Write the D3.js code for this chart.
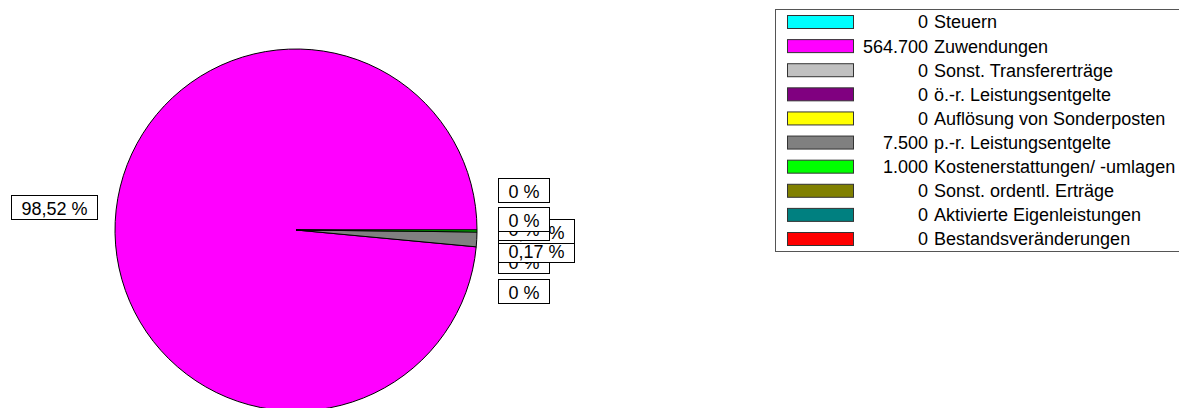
<!DOCTYPE html>
<html>
<head>
<meta charset="utf-8">
<script src="https://cdn.jsdelivr.net/npm/d3@7/dist/d3.min.js"></script>
<style>
  html, body { margin: 0; padding: 0; background: #fff; }
  svg { display: block; }
  text { font-family: Arial, "Liberation Sans", Helvetica, sans-serif; }
</style>
</head>
<body>
<svg id="chart" width="1179" height="408"></svg>
<script>
// ---- data ----
const categories = [
  "Steuern",
  "Zuwendungen",
  "Sonst. Transfererträge",
  "ö.-r. Leistungsentgelte",
  "Auflösung von Sonderposten",
  "p.-r. Leistungsentgelte",
  "Kostenerstattungen/ -umlagen",
  "Sonst. ordentl. Erträge",
  "Aktivierte Eigenleistungen",
  "Bestandsveränderungen"
];
const values = [0, 564700, 0, 0, 0, 7500, 1000, 0, 0, 0];
const colors = ["#00FFFF", "#FF00FF", "#C0C0C0", "#800080", "#FFFF00",
                "#808080", "#00FF00", "#808000", "#008080", "#FF0000"];

// ---- label layout (vertical nudges from the slice anchor, draw order) ----
const labelNudge = [-2, -14.6, -56.8, -27.8, -18.8, -8.4, 19, 31, 61, -11];
const labelDrawOrder = [1, 2, 3, 4, 8, 7, 6, 5, 0, 9];

// ---- layout ----
const svg = d3.select("#chart");
const cx = 296, cy = 230, r = 181;
const fontSize = 18;

const total = d3.sum(values);
const fmtNum = d3.formatLocale({decimal: ",", thousands: ".", grouping: [3], currency: ["", " €"]});
const fmtThousands = fmtNum.format(",d");
const pctText = v => {
  const p = v / total * 100;
  if (p === 0) return "0 %";
  return fmtNum.format(".2f")(p).replace(/,?0+$/, "") + " %";
};

// counterclockwise from 3 o'clock
const pie = d3.pie().sort(null).value(d => d)
  .startAngle(Math.PI / 2).endAngle(Math.PI / 2 - 2 * Math.PI);
const arcs = pie(values);
const arc = d3.arc().innerRadius(0).outerRadius(r);

const g = svg.append("g").attr("transform", `translate(${cx},${cy})`);
g.selectAll("path.slice")
  .data(arcs.filter(a => a.value > 0))
  .join("path")
  .attr("class", "slice")
  .attr("d", arc)
  .attr("fill", d => colors[d.index])
  .attr("stroke", "#000")
  .attr("stroke-width", 1)
  .attr("stroke-linejoin", "round");

// ---- labels ----
const labelG = svg.append("g");
const boxH = 24, padX = 10;
labelDrawOrder.forEach(i => {
  const a = arcs[i];
  const mid = (a.startAngle + a.endAngle) / 2; // d3 angle, clockwise from 12
  const ax = Math.sin(mid), ay = -Math.cos(mid);
  const yC = cy + ay * r + labelNudge[i];
  const right = ax >= 0;
  const lg = labelG.append("g");
  const rect = lg.append("rect");
  const t = lg.append("text")
    .attr("font-size", fontSize)
    .attr("fill", "#000")
    .attr("dominant-baseline", "central")
    .text(pctText(values[i]));
  const w = t.node().getComputedTextLength() + 2 * padX;
  const x0 = right ? cx + r + 21 : cx - r - 18 - w;
  rect.attr("x", Math.round(x0) + 0.5).attr("y", Math.round(yC - boxH / 2) + 0.5)
    .attr("width", Math.round(w)).attr("height", boxH)
    .attr("fill", "#fff").attr("stroke", "#000").attr("stroke-width", 1);
  t.attr("x", Math.round(x0) + 0.5 + padX).attr("y", Math.round(yC) + 1.5);
});

// ---- legend ----
const legX = 775.5, legY = 9.5, legW = 430, legH = 242;
svg.append("rect")
  .attr("x", legX).attr("y", legY).attr("width", legW).attr("height", legH)
  .attr("fill", "#fff").attr("stroke", "#555").attr("stroke-width", 1);

const rowY = d3.scalePoint().domain(categories).range([22, 239]);
const leg = svg.append("g");
const rows = leg.selectAll("g.row").data(categories).join("g").attr("class", "row")
  .attr("transform", d => `translate(0,${rowY(d)})`);
rows.append("rect")
  .attr("x", 787.5).attr("y", -6.5).attr("width", 66).attr("height", 13)
  .attr("fill", (d, i) => colors[i]).attr("stroke", "#333").attr("stroke-width", 1);
rows.append("text")
  .attr("x", 928).attr("y", 0).attr("dy", "0.36em")
  .attr("text-anchor", "end").attr("font-size", fontSize).attr("fill", "#000")
  .text((d, i) => fmtThousands(values[i]));
rows.append("text")
  .attr("x", 934).attr("y", 0).attr("dy", "0.36em")
  .attr("font-size", fontSize).attr("fill", "#000")
  .text(d => d);
</script>
</body>
</html>
